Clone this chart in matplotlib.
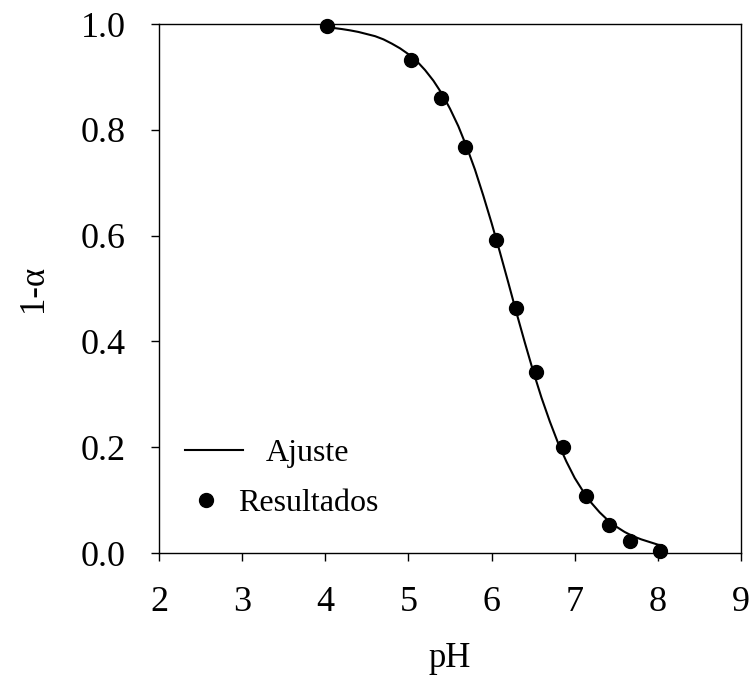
import matplotlib
matplotlib.use("Agg")
import matplotlib.pyplot as plt
from matplotlib.lines import Line2D

plt.rcParams['font.family'] = ['Liberation Serif', 'DejaVu Serif']

# Measured points (pH, 1-alpha)
ph_data = [4.02, 5.03, 5.39, 5.68, 6.05, 6.29, 6.53, 6.86, 7.14, 7.41, 7.67, 8.02]
frac_data = [0.997, 0.932, 0.860, 0.767, 0.592, 0.463, 0.342, 0.200, 0.108, 0.053, 0.023, 0.004]

# Fitted curve
ph_fit = [4.0, 4.1, 4.2, 4.3, 4.4, 4.5, 4.6, 4.7, 4.8, 4.9,
          5.0, 5.1, 5.2, 5.3, 5.4, 5.5, 5.6, 5.7, 5.8, 5.9,
          6.0, 6.1, 6.2, 6.3, 6.4, 6.5, 6.6, 6.7, 6.8, 6.9,
          7.0, 7.1, 7.2, 7.3, 7.4, 7.5, 7.6, 7.7, 7.8, 7.9, 8.0, 8.05]
frac_fit = [0.994, 0.9925, 0.9905, 0.988, 0.985, 0.981, 0.977, 0.971, 0.963, 0.954,
            0.943, 0.930, 0.913, 0.893, 0.869, 0.840, 0.807, 0.768, 0.725, 0.676,
            0.624, 0.569, 0.512, 0.454, 0.398, 0.344, 0.294, 0.249, 0.208, 0.173,
            0.142, 0.117, 0.095, 0.077, 0.062, 0.050, 0.040, 0.032, 0.026, 0.021, 0.016, 0.0146]

x_ticks = [2, 3, 4, 5, 6, 7, 8, 9]
y_ticks = [0.0, 0.2, 0.4, 0.6, 0.8, 1.0]

fig = plt.figure(figsize=(7.5, 6.77), dpi=100)
ax = fig.add_axes([0.212, 0.183, 0.776, 0.7815])

ax.plot(ph_fit, frac_fit, color='black', lw=1.5, zorder=2)
ax.plot(ph_data, frac_data, 'o', color='black', ms=10, zorder=3, clip_on=False)

ax.set_xlim(2, 9)
ax.set_ylim(0, 1)
ax.set_xticks(x_ticks)
ax.set_yticks(y_ticks)
ax.set_yticklabels([f"{v:.1f}" for v in y_ticks])
ax.tick_params(axis='both', direction='out', length=6, width=1, labelsize=26,
               top=False, right=False)
ax.tick_params(axis='y', pad=18)
ax.tick_params(axis='x', pad=18)
for s in ax.spines.values():
    s.set_linewidth(1)

ax.set_xlabel('pH', fontsize=25, labelpad=16)
ax.set_ylabel('1-α', fontsize=25, labelpad=22)

leg1 = ax.legend(handles=[Line2D([0], [0], color='black', lw=1.5)], labels=['Ajuste'],
                 loc='center left', bbox_to_anchor=(0.0447, 0.189), frameon=False,
                 fontsize=23, handlelength=1.82, handletextpad=0.72,
                 borderpad=0, borderaxespad=0)
ax.add_artist(leg1)
ax.legend(handles=[Line2D([0], [0], marker='o', color='black', ls='none', ms=10)],
          labels=['Resultados'], loc='center left', bbox_to_anchor=(0.0447, 0.0945),
          frameon=False, fontsize=23, handlelength=1.31, handletextpad=0.34,
          borderpad=0, borderaxespad=0)

fig.savefig('out.png', dpi=100)
